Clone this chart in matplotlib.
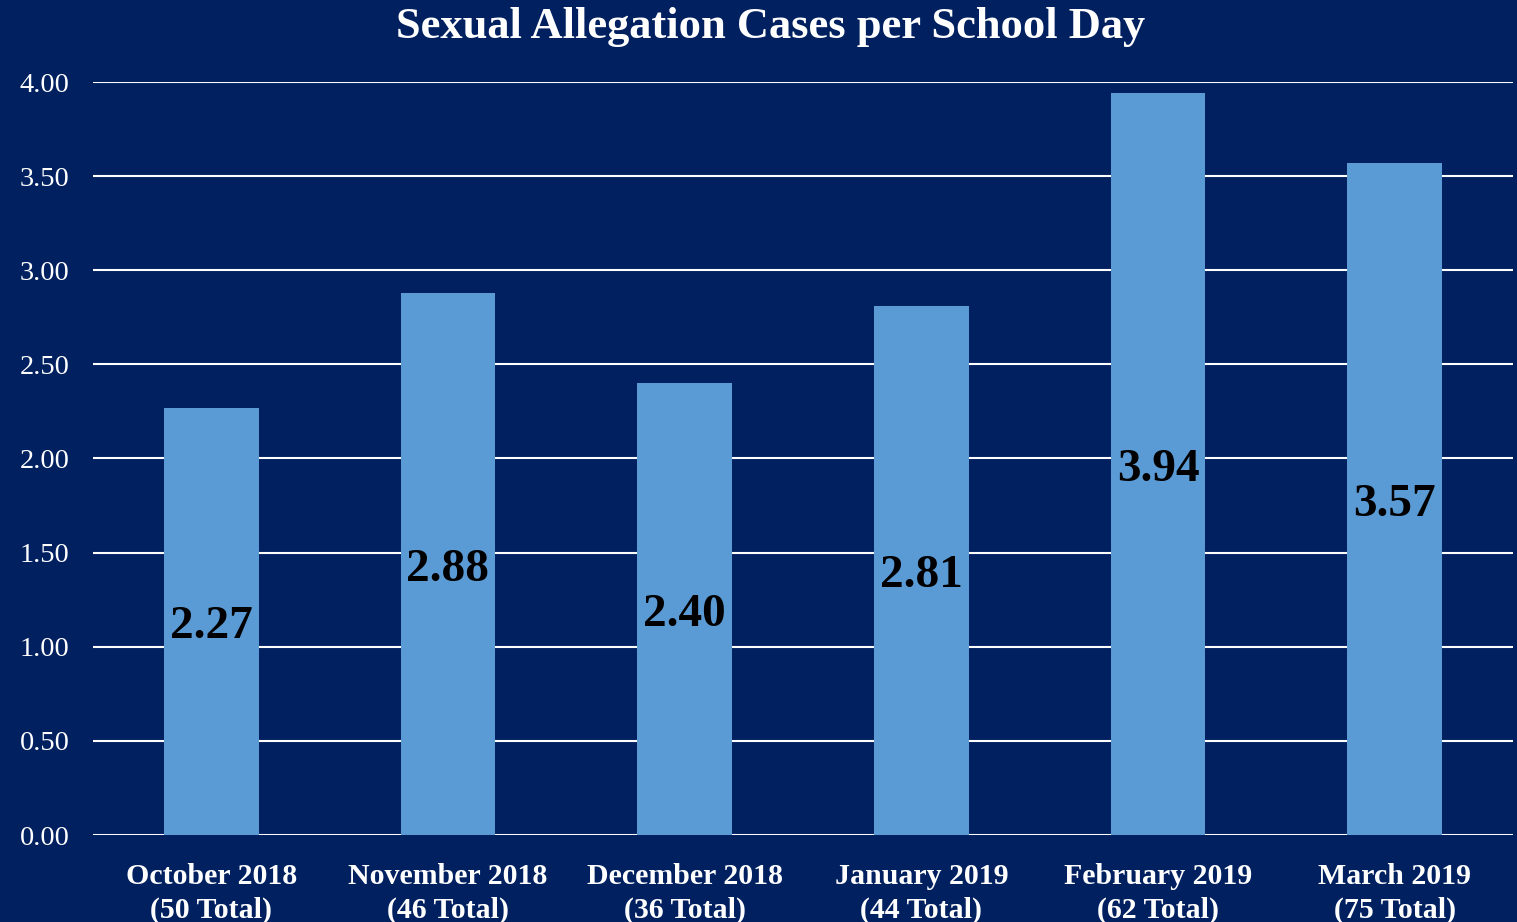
import matplotlib; matplotlib.use("Agg")
import matplotlib.pyplot as plt

months = ["October 2018", "November 2018", "December 2018", "January 2019", "February 2019", "March 2019"]
totals = [50, 46, 36, 44, 62, 75]
per_day = [2.27, 2.88, 2.40, 2.81, 3.94, 3.57]
yticks = [0, 0.5, 1.0, 1.5, 2.0, 2.5, 3.0, 3.5, 4.0]

BG = "#002060"; BAR = "#5B9BD5"
plt.rcParams.update({"font.family": ["Liberation Serif", "DejaVu Serif"]})

fig = plt.figure(figsize=(15.17, 9.22), dpi=100, facecolor=BG)
ax = fig.add_axes([93/1517, 87/922, 1420/1517, 753/922], facecolor=BG)

x = range(len(months))
bars = ax.bar(x, per_day, width=0.40, color=BAR, zorder=3)
for b, v in zip(bars, per_day):
    ax.text(b.get_x() + b.get_width()/2, v/2 - 0.03, f"{v:.2f}", ha="center", va="center",
            fontsize=34, fontweight="bold", color="black", zorder=4)

ax.set_xlim(-0.5, len(months) - 0.5); ax.set_ylim(0, 4)
ax.set_yticks(yticks)
ax.set_yticklabels([f"{t:.2f}" for t in yticks], fontsize=20.5, color="white")
ax.set_xticks(list(x))
ax.set_xticklabels([f"{m}\n({t} Total)" for m, t in zip(months, totals)],
                   fontsize=21.5, fontweight="bold", color="white", linespacing=1.35)
ax.tick_params(length=0, pad=17, axis="y")
ax.tick_params(length=0, pad=20, axis="x")
ax.grid(axis="y", color="white", lw=1.5, zorder=1)
for s in ax.spines.values(): s.set_visible(False)

fig.text(771/1517, 1 - 27/922, "Sexual Allegation Cases per School Day", ha="center", va="center",
         fontsize=32, fontweight="bold", color="white")
fig.savefig("out.png", dpi=100, facecolor=BG)
